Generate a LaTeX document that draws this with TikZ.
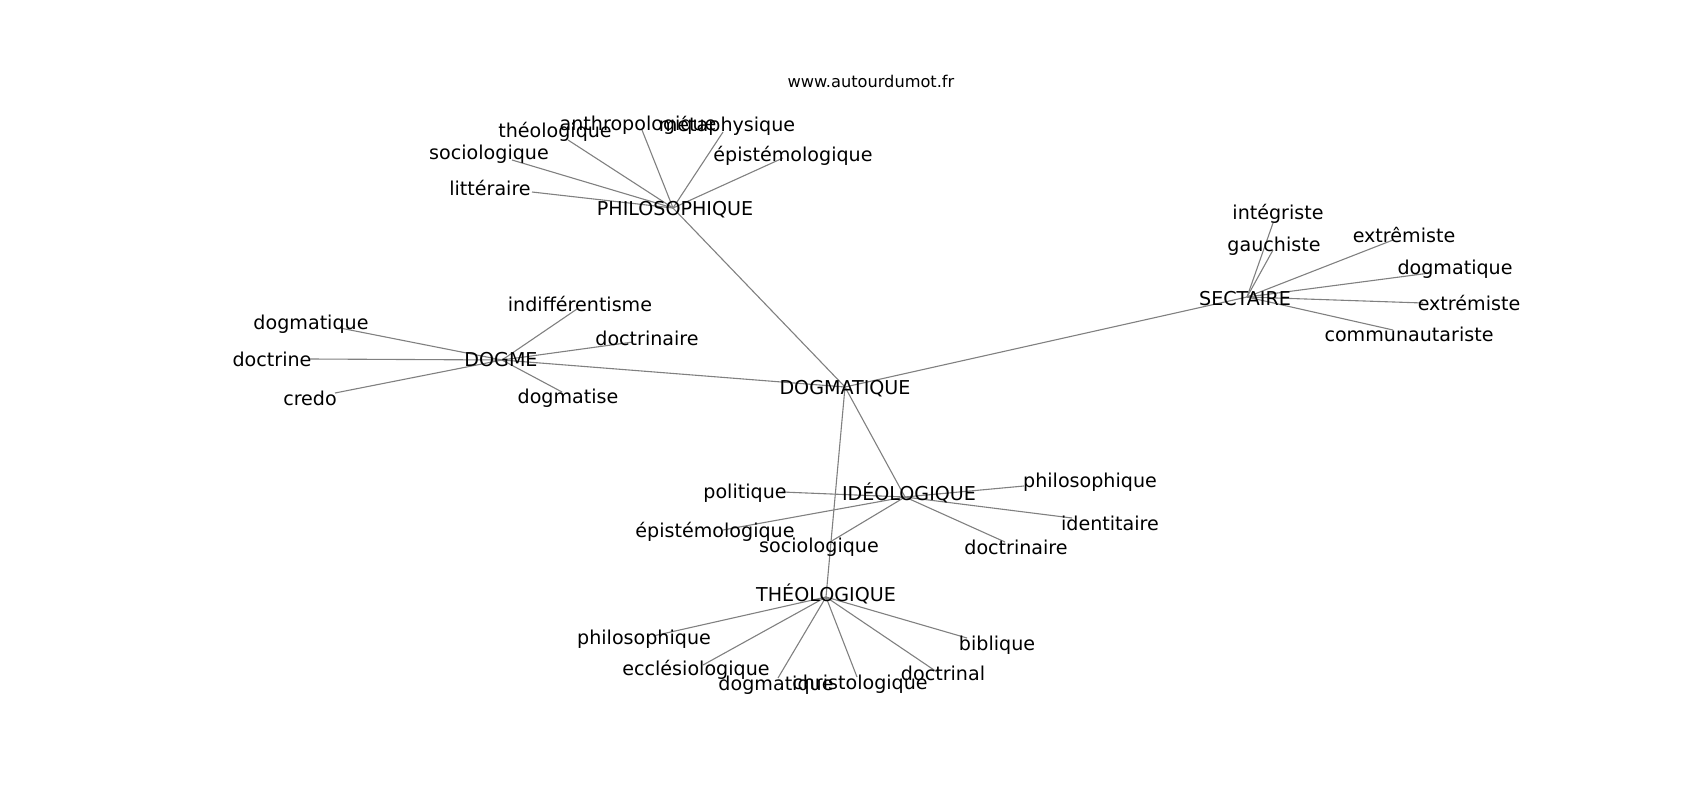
\documentclass[tikz,border=0pt]{standalone}
\usepackage{fontspec}
\setmainfont{DejaVu Sans}
\begin{document}
\begin{tikzpicture}[x=1pt,y=-1pt,
  edge/.style={draw=gray, line width=1.1pt},
  lbl/.style={font=\fontsize{19.1}{22}\selectfont, anchor=base, yshift=-7pt, inner sep=0pt},
  wm/.style={font=\fontsize{16.2}{19}\selectfont, anchor=base, yshift=-6pt, inner sep=0pt}]
\useasboundingbox (0,0) rectangle (1700,800);
% hub coordinates
\coordinate (cDOGMATIQUE) at (845,387);
\coordinate (cPHILO) at (673,208);
\coordinate (cDOGME) at (502,360);
\coordinate (cSECT) at (1247,297);
\coordinate (cIDEO) at (905,497);
\coordinate (cTHEO) at (826,597);
% leaf coordinates
\coordinate (th1) at (568,140);
\coordinate (an) at (642,130);
\coordinate (me) at (723,132);
\coordinate (so1) at (512,160);
\coordinate (ep1) at (783,158);
\coordinate (li) at (532,192);
\coordinate (dq1) at (340,328);
\coordinate (dn) at (310,359);
\coordinate (cr) at (335,393);
\coordinate (in) at (577,309);
\coordinate (dr1) at (633,342);
\coordinate (ds) at (562,392);
\coordinate (ig) at (1273,223);
\coordinate (ga) at (1273,250);
\coordinate (ex1) at (1393,240);
\coordinate (dq2) at (1430,273);
\coordinate (ex2) at (1423,303);
\coordinate (co) at (1393,330);
\coordinate (po) at (782,492);
\coordinate (ph1) at (1024,486);
\coordinate (id) at (1072,518);
\coordinate (dr2) at (1005,542);
\coordinate (ep2) at (723,530);
\coordinate (so2) at (830,542);
\coordinate (ph2) at (653,636);
\coordinate (ec) at (703,665);
\coordinate (dq3) at (778,678);
\coordinate (ch) at (857,677);
\coordinate (dc) at (937,672);
\coordinate (bi) at (967,638);
% edges
\foreach \h in {cPHILO,cDOGME,cSECT,cIDEO,cTHEO} \draw[edge] (cDOGMATIQUE) -- (\h);
\foreach \l in {th1,an,me,so1,ep1,li} \draw[edge] (cPHILO) -- (\l);
\foreach \l in {dq1,dn,cr,in,dr1,ds} \draw[edge] (cDOGME) -- (\l);
\foreach \l in {ig,ga,ex1,dq2,ex2,co} \draw[edge] (cSECT) -- (\l);
\foreach \l in {po,ph1,id,dr2,ep2,so2} \draw[edge] (cIDEO) -- (\l);
\foreach \l in {ph2,ec,dq3,ch,dc,bi} \draw[edge] (cTHEO) -- (\l);
% labels
\node[wm] (wmark) at (871,82) {www.autourdumot.fr};
\node[lbl] (nDOGMATIQUE) at (845,387) {DOGMATIQUE};
\node[lbl] (nPHILO) at (675,208) {PHILOSOPHIQUE};
\node[lbl] (nDOGME) at (501,359) {DOGME};
\node[lbl] (nSECT) at (1245,298) {SECTAIRE};
\node[lbl] (nIDEO) at (909,493) {IDÉOLOGIQUE};
\node[lbl] (nTHEO) at (826,594) {THÉOLOGIQUE};
\node[lbl] (lth1) at (555,130) {théologique};
\node[lbl] (lan) at (638,123) {anthropologique};
\node[lbl] (lme) at (727,124) {métaphysique};
\node[lbl] (lso1) at (489,152) {sociologique};
\node[lbl] (lep1) at (793,154) {épistémologique};
\node[lbl] (lli) at (490,188) {littéraire};
\node[lbl] (ldq1) at (311,322) {dogmatique};
\node[lbl] (ldn) at (272,359) {doctrine};
\node[lbl] (lcr) at (310,398) {credo};
\node[lbl] (lin) at (580,304) {indifférentisme};
\node[lbl] (ldr1) at (647,338) {doctrinaire};
\node[lbl] (lds) at (568,396) {dogmatise};
\node[lbl] (lig) at (1278,212) {intégriste};
\node[lbl] (lga) at (1274,244) {gauchiste};
\node[lbl] (lex1) at (1404,235) {extrêmiste};
\node[lbl] (ldq2) at (1455,267) {dogmatique};
\node[lbl] (lex2) at (1469,303) {extrémiste};
\node[lbl] (lco) at (1409,334) {communautariste};
\node[lbl] (lpo) at (745,491) {politique};
\node[lbl] (lph1) at (1090,480) {philosophique};
\node[lbl] (lid) at (1110,523) {identitaire};
\node[lbl] (ldr2) at (1016,547) {doctrinaire};
\node[lbl] (lep2) at (715,530) {épistémologique};
\node[lbl] (lso2) at (819,545) {sociologique};
\node[lbl] (lph2) at (644,637) {philosophique};
\node[lbl] (lec) at (696,668) {ecclésiologique};
\node[lbl] (ldq3) at (776,683) {dogmatique};
\node[lbl] (lch) at (860,682) {christologique};
\node[lbl] (ldc) at (943,673) {doctrinal};
\node[lbl] (lbi) at (997,643) {biblique};
\end{tikzpicture}
\end{document}
